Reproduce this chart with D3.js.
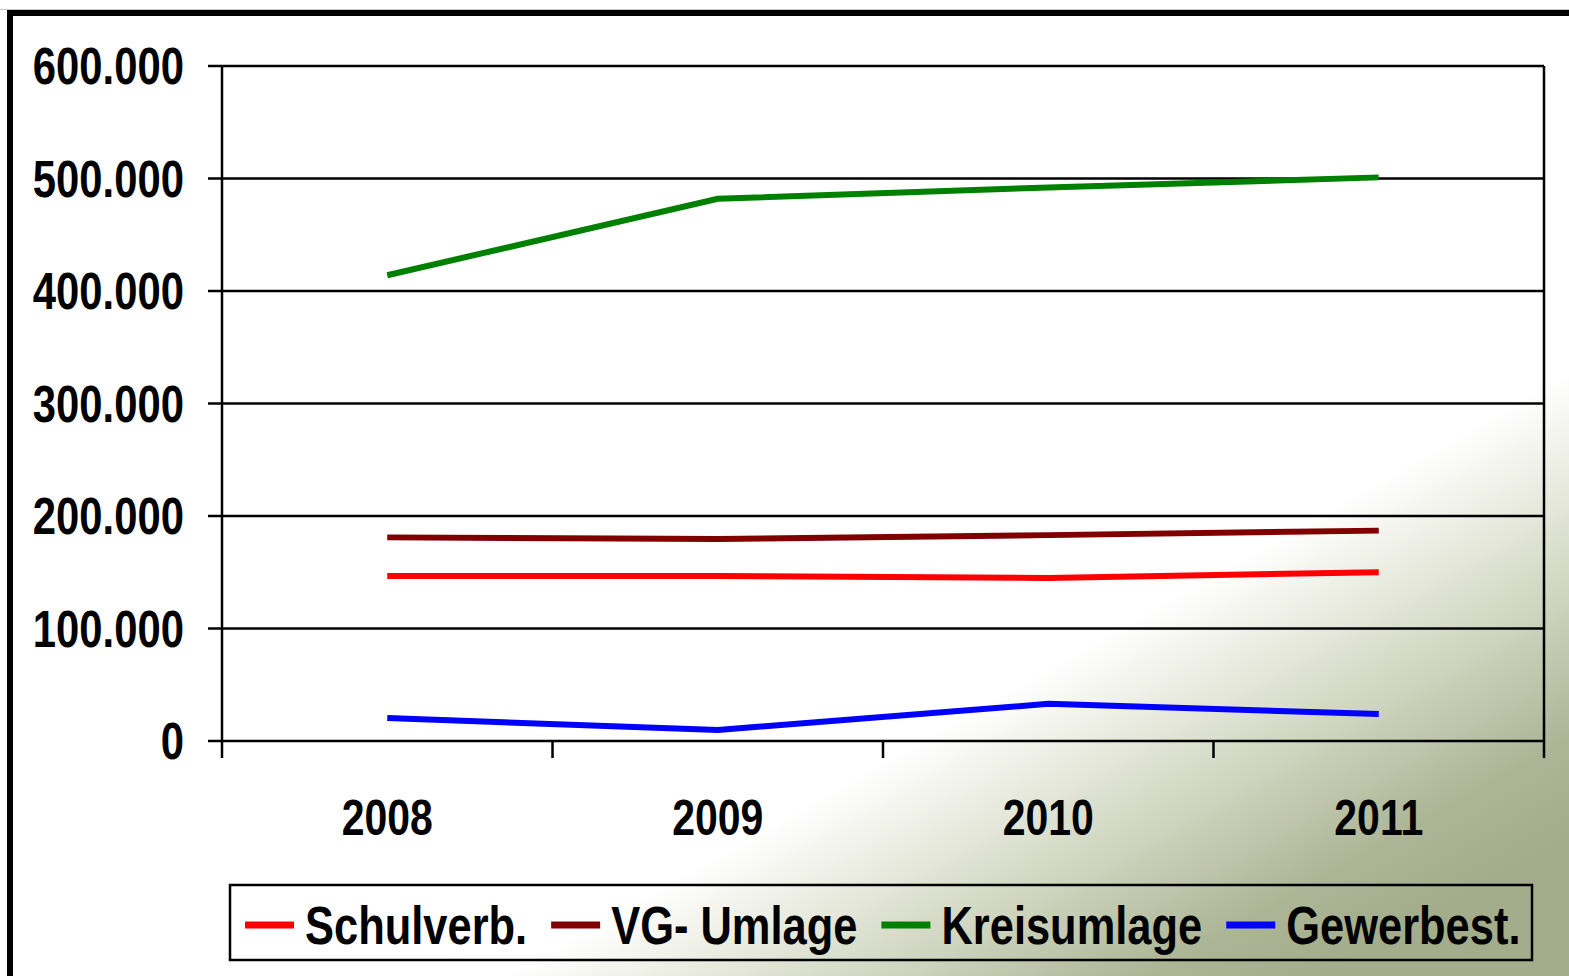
<!DOCTYPE html>
<html>
<head>
<meta charset="utf-8">
<script src="https://cdn.jsdelivr.net/npm/d3@7"></script>
<style>
	body { margin: 0; background: #fff; }
	svg { display: block; }
	text { font-family: 'Liberation Sans', Arial, sans-serif; font-weight: bold; fill: #000; }
</style>
</head>
<body>
<svg id="chart-svg" width="1569" height="976"></svg>
<script>
const YEARS = ['2008', '2009', '2010', '2011'];
const SCHULVERB = [146700, 146700, 145000, 150000];
const VG_UMLAGE = [181000, 179500, 183000, 187000];
const KREISUMLAGE = [414000, 482000, 492000, 501000];
const GEWERBEST = [20400, 9800, 33000, 24000];
const Y_TICKS = [0, 100000, 200000, 300000, 400000, 500000, 600000];

const SERIES = [
	{ name: 'Schulverb.', color: '#ff0000', values: SCHULVERB },
	{ name: 'VG- Umlage', color: '#800000', values: VG_UMLAGE },
	{ name: 'Kreisumlage', color: '#008000', values: KREISUMLAGE },
	{ name: 'Gewerbest.', color: '#0000ff', values: GEWERBEST }
];

const PLOT = { left: 222, right: 1544, top: 66, bottom: 741 };
const NARROW = 0.82; // condensed look of the original font

const svg = d3.select('#chart-svg');

// background: white with olive gradient in the lower right corner
const defs = svg.append('defs');
const grad = defs
	.append('linearGradient')
	.attr('id', 'bg-grad')
	.attr('gradientUnits', 'userSpaceOnUse')
	.attr('x1', 1060)
	.attr('y1', 660)
	.attr('x2', 1060 + 0.493 * 400)
	.attr('y2', 660 + 0.87 * 400);
grad.append('stop').attr('offset', 0).attr('stop-color', '#ffffff');
grad.append('stop').attr('offset', 0.15).attr('stop-color', '#f1f2ea');
grad.append('stop').attr('offset', 0.5).attr('stop-color', '#cdd3bc');
grad.append('stop').attr('offset', 0.8).attr('stop-color', '#acb596');
grad.append('stop').attr('offset', 1).attr('stop-color', '#a3ad8b');
svg.append('rect').attr('width', 1569).attr('height', 976).attr('fill', 'url(#bg-grad)');

// outer frame
svg.append('line').attr('x1', 0).attr('x2', 1569).attr('y1', 9.5).attr('y2', 9.5).attr('stroke', '#c8c8c8').attr('stroke-width', 1);
svg
	.append('rect')
	.attr('x', 10)
	.attr('y', 13)
	.attr('width', 1600)
	.attr('height', 1000)
	.attr('fill', 'none')
	.attr('stroke', '#000')
	.attr('stroke-width', 6);

const xScale = d3.scaleBand().domain(YEARS).range([ PLOT.left, PLOT.right ]);
const yScale = d3.scaleLinear().domain([ 0, 600000 ]).range([ PLOT.bottom, PLOT.top ]);
const fmt = (v) => d3.format(',')(v).replace(/,/g, '.');

// gridlines
svg
	.append('g')
	.selectAll('line')
	.data(Y_TICKS)
	.enter()
	.append('line')
	.attr('x1', PLOT.left - 14)
	.attr('x2', PLOT.right)
	.attr('y1', (d) => yScale(d))
	.attr('y2', (d) => yScale(d))
	.attr('stroke', '#000')
	.attr('stroke-width', 2.5);

// y axis line + right border
svg.append('line').attr('x1', PLOT.left).attr('x2', PLOT.left).attr('y1', PLOT.top).attr('y2', PLOT.bottom + 17).attr('stroke', '#000').attr('stroke-width', 2.5);
svg.append('line').attr('x1', PLOT.right).attr('x2', PLOT.right).attr('y1', PLOT.top).attr('y2', PLOT.bottom + 17).attr('stroke', '#000').attr('stroke-width', 2.5);

// x ticks between categories
svg
	.append('g')
	.selectAll('line')
	.data(YEARS.slice(1))
	.enter()
	.append('line')
	.attr('x1', (d) => xScale(d))
	.attr('x2', (d) => xScale(d))
	.attr('y1', PLOT.bottom)
	.attr('y2', PLOT.bottom + 17)
	.attr('stroke', '#000')
	.attr('stroke-width', 2.5);

// y labels
svg
	.append('g')
	.selectAll('text')
	.data(Y_TICKS)
	.enter()
	.append('text')
	.attr('transform', (d) => 'translate(184, ' + (yScale(d) + 18) + ') scale(' + NARROW + ', 1)')
	.attr('text-anchor', 'end')
	.style('font-size', '51px')
	.text((d) => fmt(d));

// x labels
svg
	.append('g')
	.selectAll('text')
	.data(YEARS)
	.enter()
	.append('text')
	.attr('transform', (d) => 'translate(' + (xScale(d) + xScale.bandwidth() / 2) + ', 835) scale(' + NARROW + ', 1)')
	.attr('text-anchor', 'middle')
	.style('font-size', '50px')
	.text((d) => d);

// series lines
const lineGen = d3
	.line()
	.x((d, i) => xScale(YEARS[i]) + xScale.bandwidth() / 2)
	.y((d) => yScale(d));
svg
	.append('g')
	.selectAll('path')
	.data(SERIES)
	.enter()
	.append('path')
	.attr('d', (s) => lineGen(s.values))
	.attr('fill', 'none')
	.attr('stroke', (s) => s.color)
	.attr('stroke-width', 6);

// legend
const legendG = svg.append('g').attr('id', 'legend');
legendG
	.append('rect')
	.attr('x', 230)
	.attr('y', 885)
	.attr('width', 1302)
	.attr('height', 75)
	.attr('fill', 'none')
	.attr('stroke', '#000')
	.attr('stroke-width', 2.5);
let lx = 245;
SERIES.forEach((s) => {
	legendG
		.append('line')
		.attr('x1', lx)
		.attr('x2', lx + 49)
		.attr('y1', 925)
		.attr('y2', 925)
		.attr('stroke', s.color)
		.attr('stroke-width', 7);
	const t = legendG
		.append('text')
		.attr('transform', 'translate(' + (lx + 60) + ', 944) scale(' + NARROW + ', 1)')
		.style('font-size', '53px')
		.text(s.name);
	lx = lx + 60 + t.node().getComputedTextLength() * NARROW + 24;
});
</script>
</body>
</html>
